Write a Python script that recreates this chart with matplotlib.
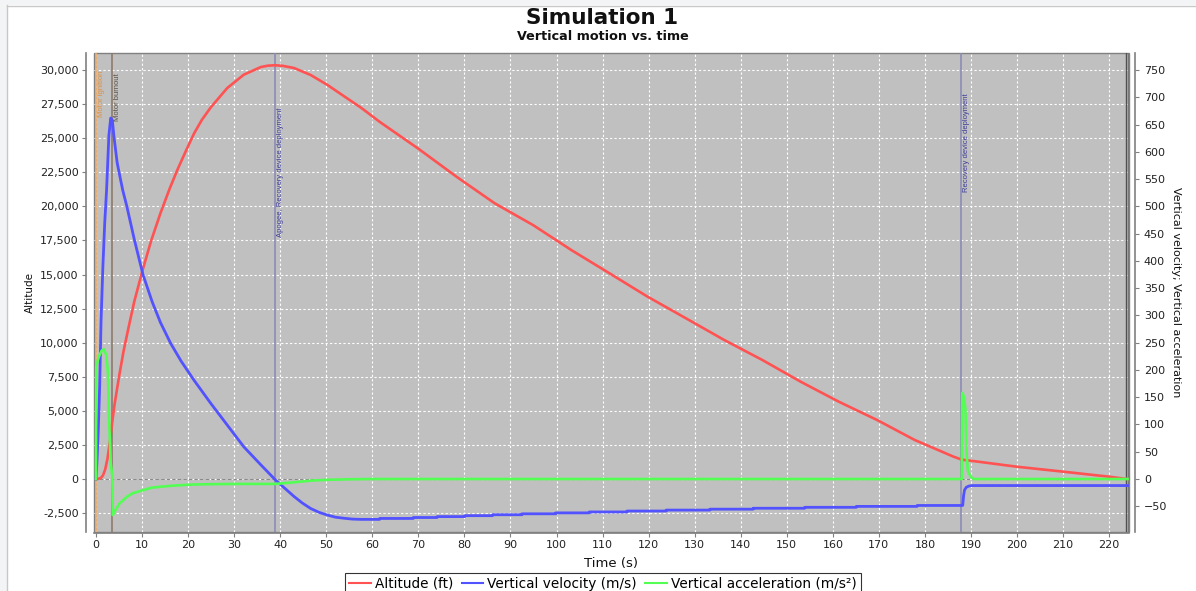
import numpy as np
import matplotlib
matplotlib.use("Agg")
import matplotlib.pyplot as plt
from matplotlib import font_manager
from matplotlib.ticker import FuncFormatter, MultipleLocator
from matplotlib.patches import Rectangle

# altitude (ft)
alt_t = [0, 0.5, 1.0, 1.5, 2.0, 2.5, 3.0, 3.5, 4.0, 5.0, 6.0, 7.0, 8.3, 10.1,
         12.0, 14.0, 16.0, 17.7, 19.5, 21.3, 23.0, 24.9, 28.5, 32.1, 35.8,
         37.3, 38.9, 40.5, 43.0, 46.6, 50.2, 53.9, 57.5, 61.6, 70.0, 78.3,
         86.6, 94.9, 103.2, 111.5, 119.8, 128.1, 136.4, 144.7, 153.0, 161.3,
         169.6, 177.8, 186.2, 188.0, 190.0, 200.0, 210.0, 220.0, 223.9]
alt_ft = [0, 15, 60, 250, 700, 1500, 2700, 4100, 5400, 7500, 9400, 11000,
          13000, 15300, 17500, 19500, 21300, 22700, 24050, 25350, 26350,
          27250, 28680, 29660, 30220, 30320, 30350, 30310, 30150, 29640,
          28920, 28070, 27250, 26200, 24230, 22170, 20220, 18630, 16800,
          15090, 13370, 11790, 10200, 8730, 7140, 5670, 4330, 2860, 1640,
          1420, 1340, 900, 540, 170, 0]

# vertical velocity (m/s)
vel_t = [0, 0.2, 0.5, 0.8, 1.1, 1.5, 1.9, 2.3, 2.8, 3.2, 3.55, 3.9, 4.6, 5.0,
         5.8, 6.7, 8.3, 10.2, 12.2, 14.0, 16.2, 18.5, 21.3, 24.9, 28.5, 32.1,
         35.8, 39.0, 41.0, 43.0, 44.8, 46.6, 48.4, 50.2, 52.0, 53.9, 55.7,
         57.5]
vel = [0, 30, 90, 170, 290, 390, 470, 530, 630, 662, 658, 628, 580, 563, 530,
       500, 440, 375, 325, 287, 249, 216, 181, 139, 99, 59, 26, -2, -17, -32,
       -44, -54, -61, -66, -70, -72, -73.5, -74]
# slow stepwise drift of descent speed
step_t = [61.6, 68.9, 74.1, 80.1, 86.1, 92.5, 99.8, 107.1, 115.3, 123.8,
          133.3, 142.7, 153.9, 165.1, 178.3]
step_v = [-72.3, -70.6, -68.9, -67.2, -65.5, -63.8, -62.1, -60.4, -58.7,
          -57.0, -55.3, -53.6, -51.9, -50.2, -48.5]
# after recovery deployment
dep_t = [188.2, 188.4, 188.6, 189.0, 189.5, 190.2, 224.0]
dep_v = [-48.5, -30, -20, -15, -13, -12, -12]

# vertical acceleration (m/s²)
acc_t = [0, 0.05, 0.6, 1.2, 1.7, 2.25, 2.6, 2.8, 3.2, 3.5, 3.55, 3.65, 4.0,
         5.1, 6.8, 8.0, 10.4, 12.0, 14.1, 17.0, 21.3, 25.0, 30.0, 39.0, 43.0,
         46.6, 50.0, 55.0, 60.0, 188.0, 188.1, 188.5, 188.8, 189.0, 189.3,
         189.9, 190.6, 224.0]
acc = [0, 206, 224, 235, 238, 227, 194, 120, 29, 8, 5, -66, -60, -45, -32,
       -26, -20, -16, -14, -12, -10, -9.5, -9, -9, -6, -3, -1.5, -0.5, 0, 0,
       158, 150, 126, 53, 16, 4, 0, 0]

# flight events: time, label, line colour, text colour, top of label
events = [
    (0.0, "Motor ignition", "#E8A868", "#E09040", 0.964),
    (3.55, "Motor burnout", "#8C7B6B", "#5A5046", 0.958),
    (38.9, "Apogee, Recovery device deployment", "#8C8CB4", "#3C3C96", 0.887),
    (187.9, "Recovery device deployment", "#8C8CB4", "#3C3C96", 0.916),
]

# build the full velocity line from the pieces
vt = list(vel_t)
vv = list(vel)
prev = vel[-1]
for t, v in zip(step_t, step_v):
    vt += [t, t]
    vv += [prev, v]
    prev = v
vt += [187.9] + dep_t
vv += [prev] + dep_v

# narrow font for the event labels if there is one
names = {f.name for f in font_manager.fontManager.ttflist}
if "Liberation Sans Narrow" in names:
    ev_font, ev_size = "Liberation Sans Narrow", 6.5
else:
    ev_font, ev_size = "Liberation Sans", 5.5

W, H = 1196, 591
fig = plt.figure(figsize=(W / 100, H / 100), dpi=100)
fig.patch.set_facecolor("white")

# outer window border strips
fig.patches.append(Rectangle((0, 0), 7 / W, 1, transform=fig.transFigure,
                             facecolor="#F3F4F6", edgecolor="none", zorder=0))
fig.patches.append(Rectangle((0, 1 - 5 / H), 1, 5 / H, transform=fig.transFigure,
                             facecolor="#F3F4F6", edgecolor="none", zorder=0))
fig.add_artist(plt.Line2D([7 / W, 7 / W], [0, 1 - 5 / H], color="#C8C8C8", lw=1))
fig.add_artist(plt.Line2D([7 / W, 1], [1 - 6 / H, 1 - 6 / H], color="#C8C8C8", lw=1))

ax = fig.add_axes([94 / W, 1 - 531.5 / H, (1128.5 - 94) / W, (531.5 - 53) / H])
ax.set_facecolor("#C0C0C0")
ax.patch.set_edgecolor("#808080")
ax.patch.set_linewidth(1.0)

ax2 = ax.twinx()

x0, x1 = -0.43, 224.2
ylo, yhi = -3850, 31250
ax.set_xlim(x0, x1)
ax.set_ylim(ylo, yhi)
ax2.set_ylim(ylo / 40, yhi / 40)

ax.grid(True, color="white", lw=0.8, ls=(0, (2, 2)))
ax.set_axisbelow(True)
ax.axhline(0, color="#8A8A8A", lw=0.8, ls=(0, (3, 2)), zorder=1)

for t, label, lc, tc, yf in events:
    ax.axvline(t, color=lc, lw=1.2, zorder=2)
    ax.annotate(label, xy=(t, yf), xycoords=("data", "axes fraction"),
                xytext=(3.8, 0), textcoords="offset points",
                rotation=90, ha="center", va="top", color=tc,
                fontsize=ev_size, family=[ev_font, "DejaVu Sans"])
# end of flight markers at the right edge
ax.axvline(223.7, color="#505050", lw=1.0, zorder=2)
ax.axvline(224.05, color="#787878", lw=1.0, zorder=2)

l1, = ax.plot(alt_t, alt_ft, color="#FF5252", lw=1.9, zorder=3,
              label="Altitude (ft)")
l2, = ax2.plot(vt, vv, color="#5252FF", lw=2.0, zorder=3,
               label="Vertical velocity (m/s)")
l3, = ax2.plot(acc_t, acc, color="#52FF52", lw=1.9, zorder=3,
               label="Vertical acceleration (m/s²)")

# axes styling
for a in (ax, ax2):
    for s in a.spines.values():
        s.set_visible(False)
ax.spines["left"].set_visible(True)
ax.spines["left"].set_position(("outward", 6))
ax.spines["bottom"].set_visible(True)
ax.spines["bottom"].set_position(("outward", 1))
ax2.spines["right"].set_visible(True)
ax2.spines["right"].set_position(("outward", 5))
for s in (ax.spines["left"], ax.spines["bottom"], ax2.spines["right"]):
    s.set_color("#808080")
    s.set_linewidth(1.2)

ax.xaxis.set_major_locator(MultipleLocator(10))
ax.yaxis.set_major_locator(MultipleLocator(2500))
ax2.yaxis.set_major_locator(MultipleLocator(50))
ax.yaxis.set_major_formatter(FuncFormatter(lambda v, p: f"{v:,.0f}"))
ax.tick_params(axis="both", labelsize=8, length=3, color="#808080",
               labelcolor="#222222", pad=2)
ax2.tick_params(axis="y", labelsize=8, length=3, color="#808080",
                labelcolor="#222222", pad=3)

ax.set_xlabel("Time (s)", fontsize=9.5, color="#111111")
ax.xaxis.set_label_coords(0.5, -0.053)
ax.set_ylabel("Altitude", fontsize=7.5, color="#111111")
ax.yaxis.set_label_coords(-0.057, 0.5)
ax2.set_ylabel("Vertical velocity; Vertical acceleration", fontsize=8,
               rotation=270, color="#111111", va="bottom")
ax2.yaxis.set_label_coords(1.041, 0.5)

fig.text(602 / W, 1 - 18 / H, "Simulation 1", ha="center", va="center",
         fontsize=15.5, fontweight="bold", color="#111111")
fig.text(603 / W, 1 - 37 / H, "Vertical motion vs. time", ha="center",
         va="center", fontsize=9.2, fontweight="bold", color="#111111")

leg = fig.legend(handles=[l1, l2, l3], loc="upper center", ncol=3,
                 bbox_to_anchor=(603 / W, 1 - 572.5 / H), fontsize=9.8,
                 frameon=True, fancybox=False, edgecolor="black",
                 handlelength=1.6, handletextpad=0.3, columnspacing=0.6,
                 borderpad=0.3, borderaxespad=0)
leg.get_frame().set_linewidth(0.8)
for h in leg.get_lines():
    h.set_linewidth(1.5)

fig.savefig("out.png", dpi=100)
